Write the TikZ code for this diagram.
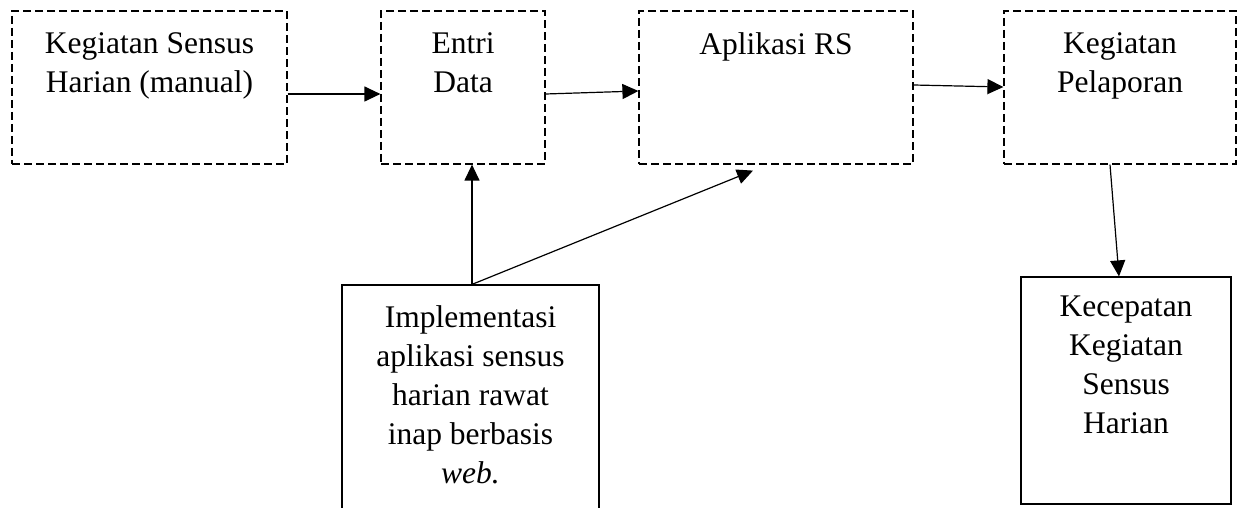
\documentclass[tikz,border=0pt]{standalone}
\usepackage{fontspec}
\setmainfont{Liberation Serif}
\usetikzlibrary{arrows.meta}
\tikzset{
  dbox/.style={draw, line width=1.2pt, dash pattern=on 8pt off 4pt, inner sep=0pt},
  sbox/.style={draw, line width=1.2pt, inner sep=0pt},
  lbl/.style={anchor=north, inner sep=0pt, align=center, font=\fontsize{31.5}{39}\selectfont},
  conn/.style={line width=1.2pt, -{Triangle[length=16pt,width=15pt]}}
}
\begin{document}
\begin{tikzpicture}[x=1pt,y=-1pt]
\useasboundingbox (0,0) rectangle (1243,508);
\clip (0,0) rectangle (1243,508);
\fill[white] (0,0) rectangle (1243,508);
% boxes
\node[dbox, minimum width=275pt, minimum height=153pt] (b1) at (149.5,87.5) {};
\node[dbox, minimum width=164pt, minimum height=153pt] (b2) at (463,87.5) {};
\node[dbox, minimum width=274pt, minimum height=153pt] (b3) at (776,87.5) {};
\node[dbox, minimum width=232pt, minimum height=153pt] (b4) at (1120,87.5) {};
\node[sbox, minimum width=257pt, minimum height=250pt] (b5) at (470.5,410) {};
\node[sbox, minimum width=210pt, minimum height=227pt] (b6) at (1126,390.5) {};
% labels
\node[lbl] (t1) at ([yshift=-22pt]b1.north) {Kegiatan Sensus\\Harian (manual)};
\node[lbl] (t2) at ([yshift=-22pt]b2.north) {Entri\\Data};
\node[lbl] (t3) at ([yshift=-22pt]b3.north) {Aplikasi RS};
\node[lbl] (t4) at ([yshift=-22pt]b4.north) {Kegiatan\\Pelaporan};
\node[lbl] (t5) at ([yshift=-21pt]b5.north) {Implementasi\\aplikasi sensus\\harian rawat\\inap berbasis\\\textit{web.}};
\node[lbl] (t6) at ([yshift=-19pt]b6.north) {Kecepatan\\Kegiatan\\Sensus\\Harian};
% connectors
\draw[conn] ([yshift=-6.5pt]b1.east) -- ([yshift=-6.5pt]b2.west);
\draw[conn] ([yshift=-6.5pt]b2.east) -- ([yshift=-3.5pt]b3.west);
\draw[conn] ([yshift=2.5pt]b3.east) -- ([yshift=0.5pt]b4.west);
\draw[conn] ([xshift=1.5pt]b5.north) -- ([xshift=9pt]b2.south);
\draw[conn] ([xshift=1.5pt]b5.north) -- ([xshift=-23pt,yshift=-6pt]b3.south);
\draw[conn] ([xshift=-10pt]b4.south) -- ([xshift=-7pt]b6.north);
\end{tikzpicture}
\end{document}
